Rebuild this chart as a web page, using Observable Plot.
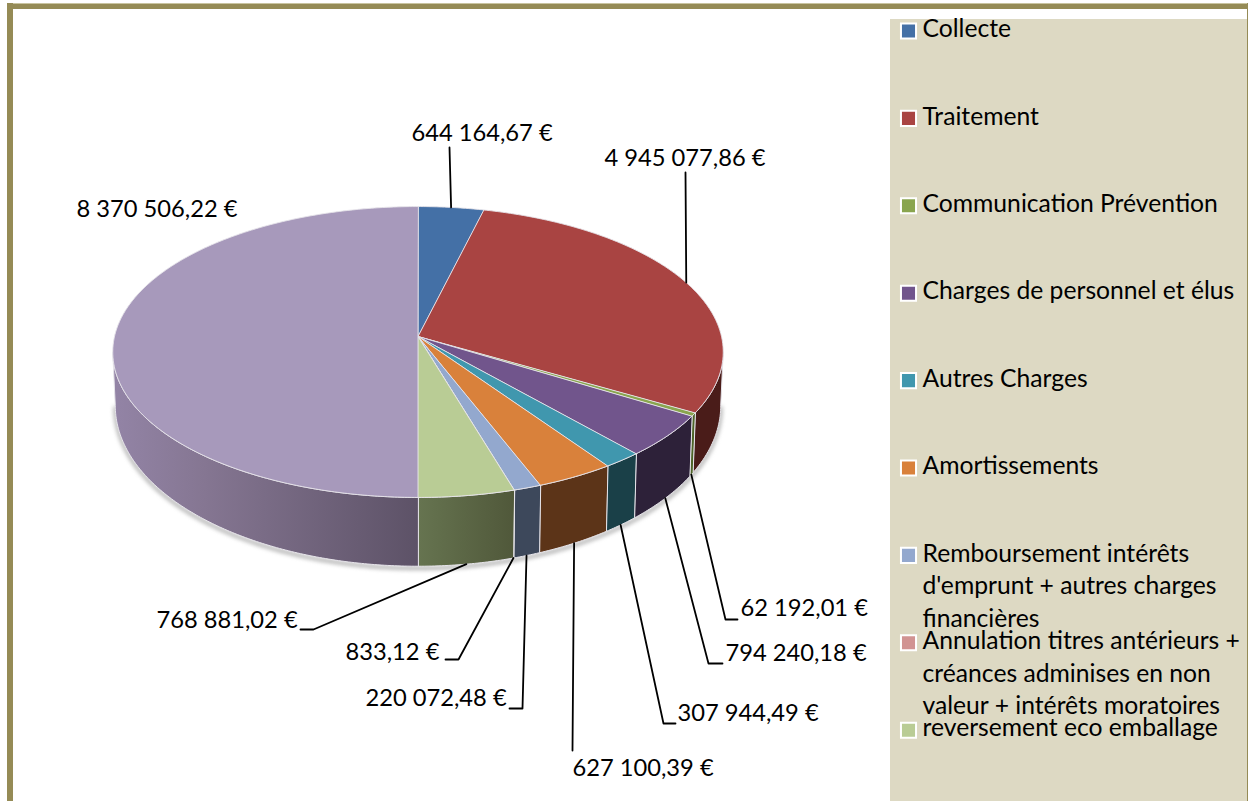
<!DOCTYPE html>
<html lang="fr">
<head>
<meta charset="utf-8">
<script src="https://cdn.jsdelivr.net/npm/d3@7"></script>
<script src="https://cdn.jsdelivr.net/npm/@observablehq/plot@0.6"></script>
<style>
  html,body{margin:0;padding:0;background:#fff;overflow:hidden}
  #page{position:relative;width:1248px;height:801px;overflow:hidden}
  .frameTop{position:absolute;left:7px;top:3px;width:1241px;height:6px;background:#958B56;border-top:1px solid #c9c4a0;box-sizing:border-box}
  .frameLeft{position:absolute;left:7px;top:3px;width:6px;height:798px;background:#958B56}
  .frameRight{position:absolute;left:1247px;top:3px;width:1px;height:798px;background:#958B56}
  .panel{position:absolute;left:890px;top:19px;width:357px;height:782px;background:#DDD9C3}
  #page svg{position:absolute;left:0;top:0;background:transparent}
  .soft{filter:blur(2px)}
</style>
</head>
<body>
<div id="page">
  <div class="frameTop"></div><div class="frameLeft"></div><div class="frameRight"></div><div class="panel"></div>
</div>
<script>
// ---- data ----
const categories = [
  "Collecte", "Traitement", "Communication Prévention", "Charges de personnel et élus",
  "Autres Charges", "Amortissements",
  "Remboursement intérêts\nd'emprunt + autres charges\nfinancières",
  "Annulation titres antérieurs +\ncréances adminises en non\nvaleur + intérêts moratoires",
  "reversement eco emballage", "Total"
];
const values = [644164.67, 4945077.86, 62192.01, 794240.18, 307944.49, 627100.39, 220072.48, 833.12, 768881.02, 8370506.22];
const topColors = ["#4470A6", "#A94442", "#89A54E", "#71558C", "#4097AE", "#D9813B", "#93A8CE", "#D19392", "#B9CC95", "#A799BB"];
const sideColors = ["#26405F", "#4A1C19", "#4E6428", "#2D2139", "#1A4048", "#5C3418", "#3D485B", "#7A4A48", "url(#sideGreen)", "url(#sidePurple)"];

// label placement: left edge and vertical centre of each value label
const labelLeft = [411, 604, 740, 725, 677, 572, 365, 345, 156, 76];
const labelMid  = [133, 158, 608, 653, 713, 768, 698, 652, 620, 209];
// leader lines: rim side (top or bottom face), elbow and end
const leaderFace = ["top", "top", "bottom", "bottom", "bottom", "bottom", "bottom", "bottom", "bottom", null];
const leaderElbow = [null, null, [725, 619], [708, 663], [663, 723], null, [522, 708], [458, 659], [313, 629], null];
const leaderEnd = [[449, 147], [685, 172], [737, 619], [722, 663], [675, 723], [572, 750], [509, 708], [445, 659], [300, 629], null];

// ---- perspective view of the two circular faces ----
const centerX = 417.5;
const persp = 0.1065;
const faces = {
  top:    {y0: 336, a: 143.8, b: 303.5},
  bottom: {y0: 388, a: 158.8, b: 301}
};
function project(theta, face) {
  const f = faces[face], u = Math.sin(theta), v = -Math.cos(theta), d = 1 - persp * v;
  return {x: centerX + f.b * u / d, y: f.y0 + f.a * v / d};
}
function arc(t0, t1, face) {
  const n = Math.max(2, Math.ceil(Math.abs(t1 - t0) / 0.01));
  return d3.range(n + 1).map(i => project(t0 + (t1 - t0) * i / n, face));
}

const slices = d3.pie().sort(null)(values).map((p, i) => ({i, start: p.startAngle, end: p.endAngle, mid: (p.startAngle + p.endAngle) / 2}));
const tangent = Math.acos(-persp);               // silhouette of the disc
const sideFrom = tangent, sideTo = 2 * Math.PI - tangent;

const rimLight = "#e6e4ea";
const marks = [];

// gradients for the two shaded side walls
marks.push(() => {
  const defs = d3.create("svg:defs");
  const grad = (id, stops) => {
    const g = defs.append("linearGradient").attr("id", id);
    stops.forEach(([o, c]) => g.append("stop").attr("offset", o).attr("stop-color", c));
  };
  grad("sidePurple", [[0, "#9384A6"], [0.3, "#857692"], [1, "#5D5267"]]);
  grad("sideGreen", [[0, "#667450"], [1, "#50583A"]]);
  return defs.node();
});

// soft shadow below the disc
marks.push(Plot.line(arc(sideFrom, sideTo, "bottom"), {
  x: "x", y: "y", dy: 2, stroke: "#777", strokeWidth: 3, strokeOpacity: 0.7, className: "soft"
}));

// side walls
for (const s of slices) {
  const a = Math.max(s.start, sideFrom), b = Math.min(s.end, sideTo);
  if (b <= a) continue;
  const ring = [...arc(a, b, "top"), ...arc(b, a, "bottom")];
  marks.push(Plot.line(ring, {x: "x", y: "y", curve: "linear-closed", fill: sideColors[s.i], stroke: rimLight, strokeWidth: 1}));
}
// top face
for (const s of slices) {
  const ring = [{x: centerX, y: faces.top.y0}, ...arc(s.start, s.end, "top")];
  marks.push(Plot.line(ring, {x: "x", y: "y", curve: "linear-closed", fill: topColors[s.i], stroke: rimLight, strokeWidth: 0.9}));
}

// leader lines
for (const s of slices) {
  if (!leaderFace[s.i]) continue;
  const pts = [project(s.mid, leaderFace[s.i])];
  if (leaderElbow[s.i]) pts.push({x: leaderElbow[s.i][0], y: leaderElbow[s.i][1]});
  pts.push({x: leaderEnd[s.i][0], y: leaderEnd[s.i][1]});
  marks.push(Plot.line(pts, {x: "x", y: "y", stroke: "#000", strokeWidth: 1.8}));
}

// value labels
const euro = v => v.toFixed(2).replace(".", ",").replace(/\B(?=(\d{3})+(?!\d))(?=.*,)/g, " ") + " €";
marks.push(Plot.text(slices, {
  x: d => labelLeft[d.i], y: d => labelMid[d.i], text: d => euro(values[d.i]),
  textAnchor: "start", fontSize: 23.7, fontFamily: "Lato", fill: "#000"
}));

// legend
const legendItems = categories.slice(0, 9).map((name, i) => ({name, i}));
const legendY = i => 30.5 + i * 87.4;
marks.push(Plot.dot(legendItems, {
  x: 908, y: d => legendY(d.i), symbol: "square", r: 8.5,
  fill: d => topColors[d.i], stroke: "#fff", strokeWidth: 2
}));
marks.push(Plot.text(legendItems, {
  x: 922, y: d => legendY(d.i) - 17, text: "name", lineAnchor: "top", lineHeight: 1.32,
  textAnchor: "start", fontSize: 24.7, fontFamily: "Lato", fill: "#000"
}));

const chart = Plot.plot({
  width: 1248, height: 801,
  margin: 0,
  x: {domain: [0, 1248], range: [0, 1248], axis: null},
  y: {domain: [0, 801], range: [0, 801], axis: null},
  marks
});
document.getElementById("page").appendChild(chart);
</script>
</body>
</html>
